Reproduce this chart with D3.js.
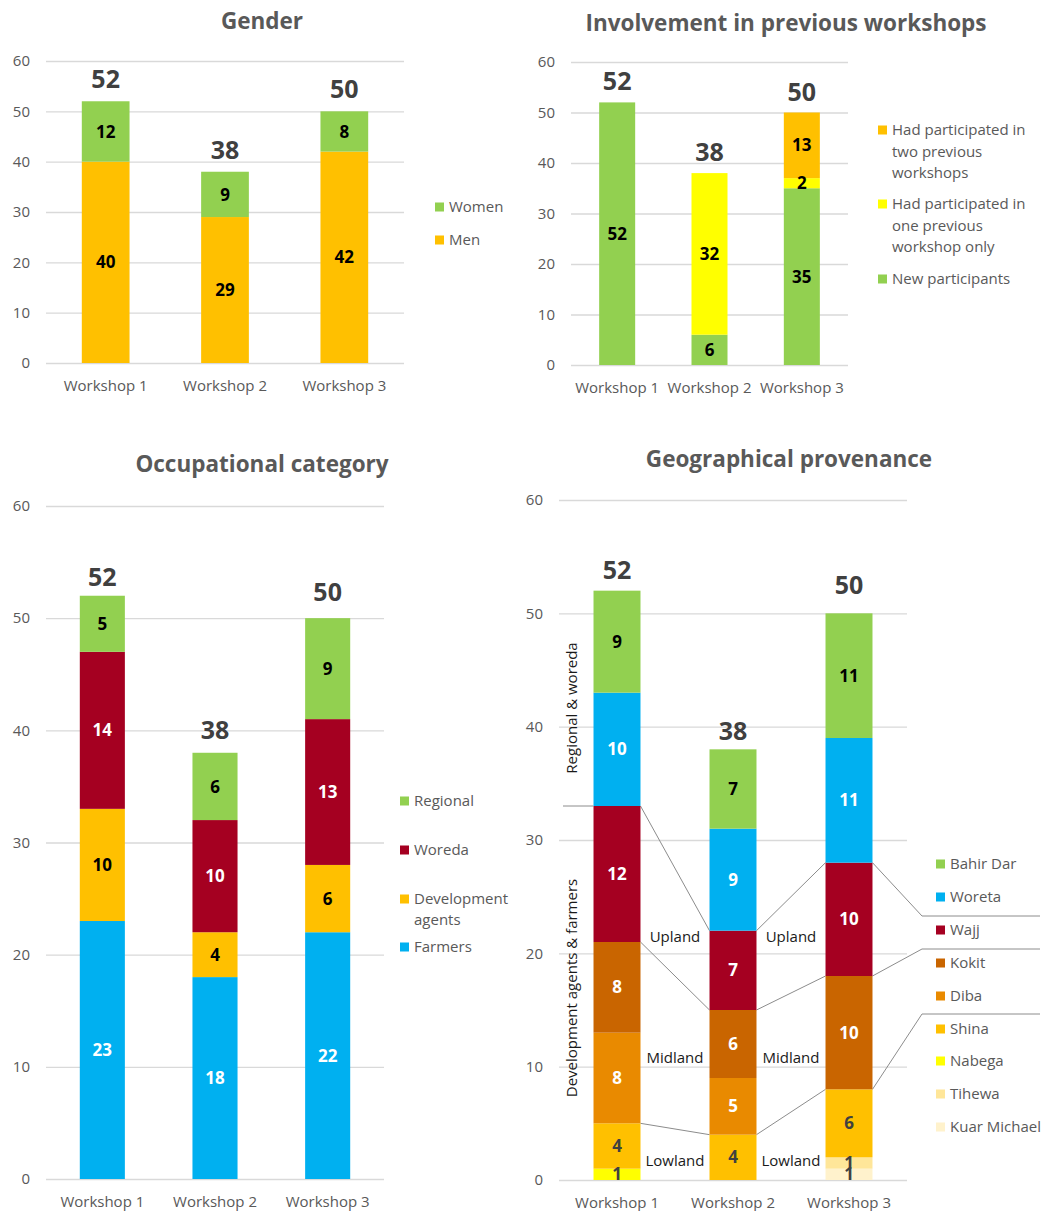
<!DOCTYPE html>
<html>
<head>
<meta charset="utf-8">
<script src="https://cdn.jsdelivr.net/npm/d3@7"></script>
<style>
  html, body { margin: 0; padding: 0; background: #fff; }
  text { font-family: "Open Sans", "Noto Sans", sans-serif; }
</style>
</head>
<body>
<script>
// ---------------- DATA ----------------
const workshops = ["Workshop 1", "Workshop 2", "Workshop 3"];
const yTicks = [0, 10, 20, 30, 40, 50, 60];

// Gender
const genderKeys = ["Men", "Women"];
const genderMen = [40, 29, 42];
const genderWomen = [12, 9, 8];

// Involvement in previous workshops
const involvementKeys = ["New participants", "Had participated in one previous workshop only", "Had participated in two previous workshops"];
const involvementNew = [52, 6, 35];
const involvementOne = [0, 32, 2];
const involvementTwo = [0, 0, 13];

// Occupational category
const occupationKeys = ["Farmers", "Development agents", "Woreda", "Regional"];
const occFarmers = [23, 18, 22];
const occDevAgents = [10, 4, 6];
const occWoreda = [14, 10, 13];
const occRegional = [5, 6, 9];

// Geographical provenance
const geoKeys = ["Kuar Michael", "Tihewa", "Nabega", "Shina", "Diba", "Kokit", "Wajj", "Woreta", "Bahir Dar"];
const geoKuarMichael = [0, 0, 1];
const geoTihewa = [0, 0, 1];
const geoNabega = [1, 0, 0];
const geoShina = [4, 4, 6];
const geoDiba = [8, 5, 0];
const geoKokit = [8, 6, 10];
const geoWajj = [12, 7, 10];
const geoWoreta = [10, 9, 11];
const geoBahirDar = [9, 7, 11];
// zones: last series of each zone (Lowland ends at Shina, Midland at Kokit, Upland at Wajj)
const zoneNames = ["Lowland", "Midland", "Upland"];
const zoneTopKeys = ["Shina", "Kokit", "Wajj"];

// ---------------- STYLE ----------------
const C = {
  green: "#92D050", gold: "#FFC000", blue: "#00B0F0", red: "#A50021",
  yellow: "#FFFF00", kokit: "#C96500", diba: "#E98A00", tihewa: "#FFE699", kuar: "#FFF2CC",
  grid: "#D9D9D9", tick: "#595959", title: "#595959", total: "#404040", conn: "#8C8C8C"
};

const svg = d3.select("body").append("svg").attr("width", 1042).attr("height", 1211);

function buildRows(keys, arrays) {
  return workshops.map((w, i) => {
    const r = { workshop: w };
    keys.forEach((k, j) => r[k] = arrays[j][i]);
    return r;
  });
}

function drawChart(cfg) {
  const g = svg.append("g");
  const x = d3.scaleBand().domain(workshops).range(cfg.xRange).paddingInner(cfg.padIn).paddingOuter(cfg.padIn / 2);
  const y = d3.scaleLinear().domain([0, 60]).range(cfg.yRange);
  const width = cfg.xRange[1] - cfg.xRange[0];

  // gridlines + y tick labels
  const ya = g.append("g").attr("transform", `translate(${cfg.xRange[0]},0)`)
    .call(d3.axisLeft(y).tickValues(yTicks).tickSize(-width).tickPadding(16));
  ya.select(".domain").remove();
  ya.selectAll("line").attr("stroke", C.grid).attr("stroke-width", 1.3);
  ya.selectAll("text").attr("fill", C.tick).style("font-size", "15px").style("font-family", "Open Sans");

  // x labels
  const xa = g.append("g").attr("transform", `translate(0,${cfg.yRange[0]})`)
    .call(d3.axisBottom(x).tickSize(0).tickPadding(cfg.xLabelPad || 17));
  xa.select(".domain").remove();
  xa.selectAll("text").attr("fill", C.tick).style("font-size", "15px").style("font-family", "Open Sans");

  // title
  g.append("text").attr("x", cfg.titleX).attr("y", cfg.titleY).attr("text-anchor", "middle")
    .attr("fill", C.title).style("font-size", "22.5px").style("font-weight", "bold").text(cfg.title);

  const rows = buildRows(cfg.keys, cfg.arrays);
  const stacked = d3.stack().keys(cfg.keys)(rows);

  // extra decorations under bars
  if (cfg.before) cfg.before(g, x, y, stacked, rows);

  stacked.forEach((layer, li) => {
    const key = cfg.keys[li];
    g.append("g").selectAll("rect").data(layer).join("rect")
      .attr("x", d => x(d.data.workshop))
      .attr("width", x.bandwidth())
      .attr("y", d => y(d[1]))
      .attr("height", d => y(d[0]) - y(d[1]))
      .attr("fill", cfg.colors[key]);
  });
  stacked.forEach((layer, li) => {
    const key = cfg.keys[li];
    g.append("g").selectAll("text").data(layer.filter(d => d[1] - d[0] > 0)).join("text")
      .attr("x", d => x(d.data.workshop) + x.bandwidth() / 2)
      .attr("y", d => y((d[0] + d[1]) / 2))
      .attr("dy", "0.36em")
      .attr("text-anchor", "middle")
      .attr("fill", cfg.labelColors[key])
      .style("font-size", "17px").style("font-weight", "bold")
      .text(d => d[1] - d[0]);
  });

  // totals
  const totals = rows.map(r => d3.sum(cfg.keys, k => r[k]));
  g.append("g").selectAll("text").data(workshops).join("text")
    .attr("x", w => x(w) + x.bandwidth() / 2)
    .attr("y", (w, i) => y(totals[i]) - cfg.totalGaps[i])
    .attr("dy", "0.36em")
    .attr("text-anchor", "middle")
    .attr("fill", C.total)
    .style("font-size", "25px").style("font-weight", "bold")
    .text((w, i) => totals[i]);

  // legend
  const lg = g.append("g");
  cfg.legend.forEach(item => {
    lg.append("rect").attr("x", cfg.legendX).attr("y", item.y - 4.5).attr("width", 9).attr("height", 9)
      .attr("fill", cfg.colors[item.key]);
    const t = lg.append("text").attr("x", cfg.legendX + 14).attr("y", item.y).attr("fill", C.tick)
      .style("font-size", "15px");
    item.lines.forEach((ln, i) => {
      t.append("tspan").attr("x", cfg.legendX + 14).attr("y", item.y + i * cfg.legendLH).attr("dy", "0.35em").text(ln);
    });
  });
  if (cfg.after) cfg.after(g, x, y, stacked, rows);
}

// Chart 1: Gender
drawChart({
  title: "Gender", titleX: 262, titleY: 29,
  xRange: [46, 404], yRange: [363, 61], padIn: 0.6,
  keys: genderKeys, arrays: [genderMen, genderWomen],
  colors: { "Men": C.gold, "Women": C.green },
  labelColors: { "Men": "#000", "Women": "#000" },
  totalGaps: [22, 22, 22],
  legendX: 435, legendLH: 21,
  legend: [{ key: "Women", y: 207, lines: ["Women"] }, { key: "Men", y: 240, lines: ["Men"] }]
});

// Chart 2: Involvement
drawChart({
  title: "Involvement in previous workshops", titleX: 786, titleY: 31,
  xRange: [571, 848], yRange: [365, 62], padIn: 0.61,
  keys: involvementKeys, arrays: [involvementNew, involvementOne, involvementTwo],
  colors: { [involvementKeys[0]]: C.green, [involvementKeys[1]]: C.yellow, [involvementKeys[2]]: C.gold },
  labelColors: { [involvementKeys[0]]: "#000", [involvementKeys[1]]: "#000", [involvementKeys[2]]: "#000" },
  totalGaps: [21, 21, 21],
  legendX: 878, legendLH: 21.5,
  legend: [
    { key: involvementKeys[2], y: 130, lines: ["Had participated in", "two previous", "workshops"] },
    { key: involvementKeys[1], y: 204, lines: ["Had participated in", "one previous", "workshop only"] },
    { key: involvementKeys[0], y: 279, lines: ["New participants"] }
  ]
});

// Chart 3: Occupational
drawChart({
  title: "Occupational category", titleX: 262, titleY: 472,
  xRange: [46, 384], yRange: [1179, 506], padIn: 0.6,
  keys: occupationKeys, arrays: [occFarmers, occDevAgents, occWoreda, occRegional],
  colors: { "Farmers": C.blue, "Development agents": C.gold, "Woreda": C.red, "Regional": C.green },
  labelColors: { "Farmers": "#fff", "Development agents": "#000", "Woreda": "#fff", "Regional": "#000" },
  totalGaps: [19, 23, 26],
  legendX: 400, legendLH: 21,
  legend: [
    { key: "Regional", y: 801, lines: ["Regional"] },
    { key: "Woreda", y: 850, lines: ["Woreda"] },
    { key: "Development agents", y: 899, lines: ["Development", "agents"] },
    { key: "Farmers", y: 947, lines: ["Farmers"] }
  ]
});

// Chart 4: Geographical
const geoLegendYs = [864, 897, 930, 963, 996, 1029, 1061, 1094, 1127];
const geoLegendOrder = geoKeys.slice().reverse();
drawChart({
  title: "Geographical provenance", titleX: 789, titleY: 467,
  xRange: [559, 907], yRange: [1180, 500], padIn: 0.595,
  keys: geoKeys,
  arrays: [geoKuarMichael, geoTihewa, geoNabega, geoShina, geoDiba, geoKokit, geoWajj, geoWoreta, geoBahirDar],
  colors: { "Kuar Michael": C.kuar, "Tihewa": C.tihewa, "Nabega": C.yellow, "Shina": C.gold, "Diba": C.diba,
            "Kokit": C.kokit, "Wajj": C.red, "Woreta": C.blue, "Bahir Dar": C.green },
  labelColors: { "Kuar Michael": "#404040", "Tihewa": "#404040", "Nabega": "#404040", "Shina": "#404040",
                 "Diba": "#fff", "Kokit": "#fff", "Wajj": "#fff", "Woreta": "#fff", "Bahir Dar": "#000" },
  totalGaps: [21, 18, 28],
  legendX: 936, legendLH: 21,
  legend: geoLegendOrder.map((k, i) => ({ key: k, y: geoLegendYs[i], lines: [k] })),
  before: (g, x, y, stacked, rows) => {
    const bw = x.bandwidth();
    const conn = g.append("g").attr("fill", "none").attr("stroke", C.conn).attr("stroke-width", 1);
    // cumulative tops of each zone per workshop
    const zoneTops = zoneTopKeys.map(k => {
      const layer = stacked[geoKeys.indexOf(k)];
      return layer.map(d => d[1]);
    });
    const legendLineYs = [916, 949, 1014];
    zoneTops.forEach((tops, zi) => {
      // connectors between bars
      for (let i = 0; i < workshops.length - 1; i++) {
        conn.append("line")
          .attr("x1", x(workshops[i]) + bw).attr("y1", y(tops[i]))
          .attr("x2", x(workshops[i + 1])).attr("y2", y(tops[i + 1]));
      }
      // leader to legend
      const last = workshops.length - 1;
      conn.append("path").attr("d", d3.line()([
        [x(workshops[last]) + bw, y(tops[last])],
        [922, legendLineYs[2 - zi]],
        [1040, legendLineYs[2 - zi]]
      ]));
    });
    // horizontal separator left of the first bar (regional/woreda vs farmers)
    const upTop = zoneTops[2][0];
    conn.append("line").attr("x1", 563).attr("x2", x(workshops[0])).attr("y1", y(upTop)).attr("y2", y(upTop));

    // zone labels between bars
    const zoneLabelVals = [1.7, 10.8, 21.5];
    for (let i = 0; i < workshops.length - 1; i++) {
      const mx = (x(workshops[i]) + bw + x(workshops[i + 1])) / 2;
      zoneNames.forEach((z, zi) => {
        g.append("text").attr("x", mx).attr("y", y(zoneLabelVals[zi])).attr("dy", "0.36em")
          .attr("text-anchor", "middle").attr("fill", "#1a1a1a").style("font-size", "15px").text(z);
      });
    }
    // rotated group labels
    g.append("text").attr("transform", "translate(577,708) rotate(-90)").attr("text-anchor", "middle")
      .attr("fill", "#1a1a1a").style("font-size", "15px").text("Regional & woreda");
    g.append("text").attr("transform", "translate(577,988) rotate(-90)").attr("text-anchor", "middle")
      .attr("fill", "#1a1a1a").style("font-size", "15px").text("Development agents & farmers");
  }
});
</script>
</body>
</html>
